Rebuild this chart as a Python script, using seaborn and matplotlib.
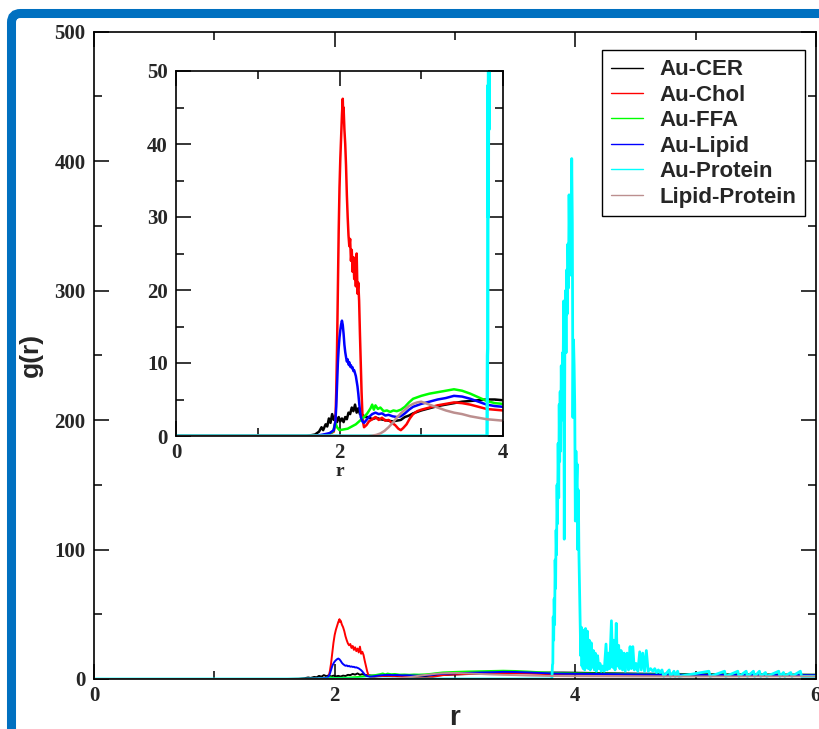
import numpy as np
import pandas as pd
import matplotlib
matplotlib.use("Agg")
import matplotlib.pyplot as plt
import seaborn as sns
from matplotlib.patches import FancyBboxPatch
from matplotlib.lines import Line2D
from matplotlib.ticker import MultipleLocator
from matplotlib.transforms import IdentityTransform

# ---------------- data (r, g(r)) ----------------
AU_CER = [(0.0, 0), (1.60, 0), (1.70, 0.2), (1.75, 0.6), (1.78, 1.2), (1.80, 0.8), (1.83, 1.6),
          (1.85, 1.3), (1.87, 2.4), (1.89, 1.8), (1.91, 3.0), (1.93, 2.2), (1.95, 2.8), (1.97, 1.9),
          (1.99, 2.6), (2.01, 2.0), (2.03, 2.4), (2.05, 1.9), (2.07, 2.6), (2.09, 2.3), (2.11, 3.2),
          (2.13, 3.0), (2.15, 3.9), (2.17, 3.4), (2.19, 4.3), (2.21, 3.2), (2.23, 3.8), (2.25, 3.0),
          (2.28, 2.9), (2.31, 2.6), (2.35, 2.6), (2.40, 2.3), (2.45, 2.5), (2.50, 2.3), (2.55, 2.2),
          (2.60, 2.1), (2.65, 2.0), (2.70, 2.1), (2.75, 2.2), (2.80, 2.6), (2.85, 2.8), (2.90, 3.1),
          (2.95, 3.3), (3.00, 3.5), (3.10, 3.8), (3.20, 4.1), (3.30, 4.3), (3.40, 4.5), (3.50, 4.7),
          (3.60, 4.8), (3.70, 4.9), (3.80, 5.0), (3.90, 5.0), (4.00, 4.9), (4.25, 4.5), (4.50, 4.2),
          (4.75, 4.0), (5.00, 3.8), (5.25, 3.6), (5.50, 3.5), (5.75, 3.4), (6.00, 3.3)]

AU_CHOL = [(0.0, 0), (1.70, 0), (1.80, 0.1), (1.88, 0.3), (1.93, 0.6), (1.95, 2), (1.96, 6),
           (1.97, 12), (1.98, 20), (1.99, 28), (2.00, 34), (2.01, 38), (2.02, 41), (2.03, 44),
           (2.04, 46.2), (2.045, 44), (2.05, 45), (2.06, 42), (2.07, 40), (2.08, 37), (2.09, 33),
           (2.10, 30), (2.11, 27.5), (2.12, 26), (2.13, 27), (2.14, 24), (2.15, 25.5), (2.16, 22.5),
           (2.17, 24.5), (2.18, 21.5), (2.19, 23.5), (2.20, 20.5), (2.21, 25), (2.22, 19.5),
           (2.23, 21), (2.24, 18.5), (2.25, 14), (2.26, 10), (2.27, 6), (2.28, 3), (2.29, 1.8),
           (2.30, 1.2), (2.33, 1.5), (2.36, 2.0), (2.40, 2.3), (2.44, 2.6), (2.48, 2.2), (2.52, 2.5),
           (2.56, 2.1), (2.60, 2.2), (2.64, 1.8), (2.68, 1.5), (2.72, 1.0), (2.75, 0.8), (2.78, 1.1),
           (2.82, 1.6), (2.86, 2.4), (2.90, 3.0), (2.95, 3.4), (3.00, 3.6), (3.10, 3.9), (3.20, 4.2),
           (3.30, 4.4), (3.40, 4.6), (3.50, 4.5), (3.60, 4.3), (3.70, 4.0), (3.80, 3.7), (3.90, 3.6),
           (4.00, 3.5), (4.50, 3.4), (5.00, 3.3), (5.50, 3.2), (6.00, 3.1)]

AU_FFA = [(0.0, 0), (1.75, 0), (1.85, 0.2), (1.92, 0.6), (1.95, 1.8), (1.97, 1.2), (2.00, 0.8),
          (2.05, 0.9), (2.10, 1.0), (2.15, 1.3), (2.20, 1.6), (2.25, 2.1), (2.30, 2.6), (2.34, 3.1),
          (2.38, 3.8), (2.40, 4.3), (2.42, 3.6), (2.44, 4.2), (2.47, 3.7), (2.50, 3.9), (2.54, 3.4),
          (2.58, 3.5), (2.62, 3.3), (2.66, 3.5), (2.70, 3.4), (2.75, 3.6), (2.80, 4.0), (2.85, 4.6),
          (2.90, 5.1), (2.95, 5.3), (3.00, 5.5), (3.10, 5.8), (3.20, 6.0), (3.30, 6.2), (3.40, 6.4),
          (3.50, 6.2), (3.60, 5.8), (3.70, 5.3), (3.80, 4.8), (3.90, 4.5), (4.00, 4.4), (4.50, 3.9),
          (5.00, 3.5), (5.50, 3.3), (6.00, 3.2)]

AU_LIPID = [(0.0, 0), (1.70, 0), (1.80, 0.2), (1.88, 0.4), (1.93, 0.8), (1.95, 2), (1.96, 4),
            (1.97, 7), (1.98, 10), (1.99, 12), (2.00, 13.5), (2.01, 14.5), (2.02, 15.3), (2.03, 15.8),
            (2.04, 15.2), (2.05, 14), (2.06, 12.5), (2.07, 11.5), (2.08, 10.8), (2.09, 10.2),
            (2.10, 10.5), (2.11, 9.8), (2.12, 10.1), (2.13, 9.5), (2.14, 9.7), (2.15, 9.3),
            (2.16, 9.4), (2.17, 8.9), (2.18, 9.0), (2.19, 8.6), (2.20, 8.2), (2.21, 7.5), (2.22, 6.8),
            (2.23, 5.8), (2.24, 4.6), (2.25, 3.5), (2.26, 2.6), (2.28, 2.0), (2.30, 1.8), (2.33, 2.2),
            (2.36, 2.6), (2.40, 3.0), (2.44, 3.2), (2.48, 3.0), (2.52, 3.1), (2.56, 2.8), (2.60, 2.9),
            (2.65, 2.7), (2.70, 2.6), (2.75, 2.7), (2.80, 3.1), (2.85, 3.6), (2.90, 4.0), (2.95, 4.2),
            (3.00, 4.4), (3.10, 4.7), (3.20, 5.0), (3.30, 5.2), (3.40, 5.5), (3.50, 5.4), (3.60, 5.1),
            (3.70, 4.7), (3.80, 4.3), (3.90, 4.1), (4.00, 4.0), (4.50, 3.6), (5.00, 3.3), (5.50, 3.1),
            (6.00, 3.0)]

AU_PROTEIN = [(0.0, 0), (3.805, 0), (3.810, 11), (3.813, 12), (3.816, 48), (3.820, 30), (3.824, 62),
              (3.828, 42), (3.832, 92), (3.836, 70), (3.840, 115), (3.844, 96), (3.848, 150),
              (3.852, 120), (3.857, 182), (3.862, 140), (3.866, 212), (3.870, 168), (3.874, 222),
              (3.878, 176), (3.883, 242), (3.888, 200), (3.893, 252), (3.898, 232), (3.903, 292),
              (3.908, 108), (3.913, 262), (3.918, 300), (3.923, 252), (3.928, 316), (3.933, 282),
              (3.938, 336), (3.943, 302), (3.948, 374), (3.953, 332), (3.958, 362), (3.963, 312),
              (3.970, 402), (3.975, 352), (3.980, 202), (3.985, 262), (3.990, 242), (3.995, 212),
              (4.000, 122), (4.005, 176), (4.010, 150), (4.015, 166), (4.020, 100), (4.025, 146),
              (4.030, 96), (4.035, 70), (4.040, 45), (4.045, 18), (4.050, 40), (4.055, 10),
              (4.060, 38), (4.065, 8), (4.072, 32), (4.078, 7), (4.085, 39), (4.092, 9), (4.100, 37),
              (4.108, 8), (4.116, 30), (4.124, 7), (4.132, 28), (4.140, 9), (4.150, 22), (4.158, 7),
              (4.166, 20), (4.175, 6), (4.185, 18), (4.195, 8), (4.205, 12), (4.215, 6), (4.225, 10),
              (4.240, 6), (4.255, 27), (4.265, 7), (4.275, 20), (4.285, 8), (4.300, 45), (4.310, 9),
              (4.320, 30), (4.330, 7), (4.340, 43), (4.350, 10), (4.360, 26), (4.370, 8), (4.380, 22),
              (4.392, 7), (4.405, 20), (4.415, 6), (4.430, 20), (4.442, 7), (4.455, 25), (4.465, 8),
              (4.478, 25), (4.490, 7), (4.505, 12), (4.520, 6), (4.535, 21), (4.548, 7), (4.560, 20),
              (4.575, 6), (4.590, 22), (4.605, 6), (4.625, 8), (4.645, 6), (4.660, 8), (4.675, 5),
              (4.690, 7), (4.705, 5), (4.720, 7), (4.735, 2), (4.780, 7), (4.790, 2), (4.820, 6),
              (4.830, 2), (4.850, 6), (4.860, 2), (5.110, 6), (5.120, 2), (5.240, 6), (5.250, 2),
              (5.350, 6), (5.360, 2), (5.420, 6), (5.430, 2), (5.480, 6), (5.490, 2), (5.530, 6),
              (5.540, 2), (5.580, 5), (5.590, 2), (5.690, 6), (5.700, 2), (5.730, 5), (5.740, 2),
              (5.790, 5), (5.800, 2), (5.870, 6), (5.880, 2), (6.000, 2)]

LIPID_PROTEIN = [(0.0, 0), (2.35, 0), (2.40, 0.05), (2.45, 0.15), (2.50, 0.35), (2.55, 0.7),
                 (2.60, 1.2), (2.65, 1.8), (2.70, 2.5), (2.75, 3.1), (2.80, 3.6), (2.85, 4.1),
                 (2.90, 4.4), (2.95, 4.6), (3.00, 4.7), (3.05, 4.5), (3.10, 4.3), (3.20, 3.9),
                 (3.30, 3.5), (3.40, 3.2), (3.50, 3.0), (3.60, 2.7), (3.70, 2.5), (3.80, 2.3),
                 (3.90, 2.2), (4.00, 2.1), (4.50, 1.9), (5.00, 1.9), (5.50, 2.0), (6.00, 2.0)]

SERIES_NAMES = ["Au-CER", "Au-Chol", "Au-FFA", "Au-Lipid", "Au-Protein", "Lipid-Protein"]
SERIES_DATA = [AU_CER, AU_CHOL, AU_FFA, AU_LIPID, AU_PROTEIN, LIPID_PROTEIN]
SERIES_COLORS = ["#000000", "#ff0000", "#00ff00", "#0000ff", "#00ffff", "#bc8f8f"]

MAIN_XTICKS = [0, 2, 4, 6]
MAIN_YTICKS = [0, 100, 200, 300, 400, 500]
INSET_XTICKS = [0, 2, 4]
INSET_YTICKS = [0, 10, 20, 30, 40, 50]

# ---------------- build long table ----------------
frames = []
for name, pts in zip(SERIES_NAMES, SERIES_DATA):
    arr = np.array(pts, dtype=float)
    frames.append(pd.DataFrame({"r": arr[:, 0], "g": arr[:, 1], "series": name}))
df = pd.concat(frames, ignore_index=True)

sns.set_style("ticks")
plt.rcParams["font.family"] = ["Liberation Sans", "DejaVu Sans"]

W, H = 820, 729
fig = plt.figure(figsize=(W / 100, H / 100), dpi=100)
fig.patch.set_facecolor("white")

tick_font = {"family": "Liberation Serif", "weight": "bold", "size": 15}


def draw(ax, lw, cyan_lw):
    for name, color in zip(SERIES_NAMES, SERIES_COLORS):
        sub = df[df["series"] == name]
        sns.lineplot(data=sub, x="r", y="g", color=color, estimator=None, sort=False,
                     legend=False, ax=ax, linewidth=cyan_lw if name == "Au-Protein" else lw)


def style(ax, xticks, yticks, xminor, yminor, maj, mnr):
    ax.set_xticks(xticks)
    ax.set_yticks(yticks)
    ax.set_xticklabels([str(t) for t in xticks], fontdict=tick_font)
    ax.set_yticklabels([str(t) for t in yticks], fontdict=tick_font)
    ax.xaxis.set_minor_locator(MultipleLocator(xminor))
    ax.yaxis.set_minor_locator(MultipleLocator(yminor))
    ax.tick_params(which="both", direction="in", top=True, right=True, width=1.1, color="black")
    ax.tick_params(which="major", length=maj)
    ax.tick_params(which="minor", length=mnr)
    ax.tick_params(axis="y", which="major", pad=6)
    ax.tick_params(axis="x", which="major", pad=5)
    for s in ax.spines.values():
        s.set_linewidth(1.2)
        s.set_color("black")
        s.set_visible(True)


# main axes
ax = fig.add_axes([94 / W, 1 - 679 / H, (816 - 94) / W, (679 - 31.7) / H])
draw(ax, 1.4, 2.0)
ax.set_xlim(0, 6)
ax.set_ylim(0, 500)
style(ax, MAIN_XTICKS, MAIN_YTICKS, 1, 50, 11, 5.5)
ax.set_xlabel("r", fontsize=20, fontweight="bold", labelpad=-1)
ax.set_ylabel("g(r)", fontsize=19, fontweight="bold", labelpad=8)

handles = [Line2D([0], [0], color=c, lw=1.0) for c in SERIES_COLORS]
leg = ax.legend(handles, SERIES_NAMES, loc="upper right", bbox_to_anchor=(0.985, 0.971),
                borderaxespad=0, frameon=True, fancybox=False, edgecolor="black", framealpha=1,
                prop={"family": "Liberation Sans", "weight": "bold", "size": 16},
                handlelength=1.45, handletextpad=0.75, labelspacing=0.2, borderpad=0.4)
leg.get_frame().set_linewidth(1.0)

# inset axes
ins = fig.add_axes([176 / W, 1 - 436 / H, (503 - 176) / W, (436 - 71) / H])
ins.set_facecolor("white")
draw(ins, 1.8, 2.4)
ins.set_xlim(0, 4)
ins.set_ylim(0, 50)
style(ins, INSET_XTICKS, INSET_YTICKS, 1, 5, 11, 5.5)
ins.set_xlabel("r", fontdict={"family": "Liberation Serif", "weight": "bold", "size": 14}, labelpad=0)
ins.set_ylabel("")

# blue frame around the picture
frame = FancyBboxPatch((11.5, -60), 900, (H - 13.5) + 60,
                       boxstyle="round,pad=0,rounding_size=9",
                       transform=IdentityTransform(), fill=False,
                       edgecolor="#0070c0", linewidth=6.5)
fig.add_artist(frame)

fig.savefig("out.png", dpi=100)
